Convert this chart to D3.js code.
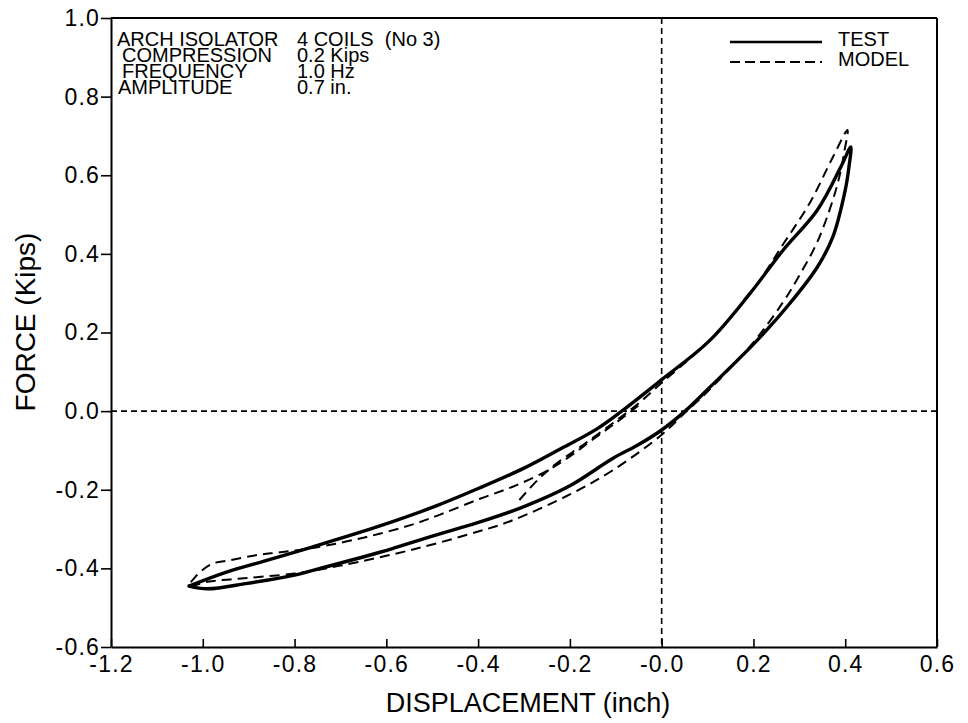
<!DOCTYPE html>
<html>
<head>
<meta charset="utf-8">
<script src="https://cdn.jsdelivr.net/npm/d3@7"></script>
<style>
  html, body { margin: 0; padding: 0; background: #fff; }
  svg { display: block; font-family: "Liberation Sans", Arial, Helvetica, sans-serif; }
</style>
</head>
<body>
<svg id="chart" width="968" height="723"></svg>
<script>
// Axis ticks and their printed labels
const xTickValues = [-1.2, -1.0, -0.8, -0.6, -0.4, -0.2, 0.0, 0.2, 0.4, 0.6];
const xTickLabels = ["-1.2", "-1.0", "-0.8", "-0.6", "-0.4", "-0.2", "-0.0", "0.2", "0.4", "0.6"];
const yTickValues = [-0.6, -0.4, -0.2, 0.0, 0.2, 0.4, 0.6, 0.8, 1.0];
const yTickLabels = ["-0.6", "-0.4", "-0.2", "0.0", "0.2", "0.4", "0.6", "0.8", "1.0"];

// Test hysteresis loop: [displacement (inch), force (kips)]
const testLower = [
  [-1.03, -0.445], [-0.99, -0.452], [-0.903, -0.438], [-0.8, -0.417], [-0.76, -0.405],
  [-0.614, -0.359], [-0.577, -0.346], [-0.5, -0.318], [-0.396, -0.282], [-0.3, -0.243],
  [-0.2, -0.19], [-0.106, -0.12], [-0.05, -0.085], [0.0, -0.048], [0.051, 0.0],
  [0.1, 0.055], [0.208, 0.18], [0.28, 0.275], [0.339, 0.366], [0.373, 0.443],
  [0.40, 0.562], [0.408, 0.62], [0.412, 0.672]
];
const testUpper = [
  [0.412, 0.672], [0.39, 0.62], [0.339, 0.511], [0.265, 0.41], [0.193, 0.30],
  [0.105, 0.18], [0.0, 0.08], [-0.087, 0.0], [-0.141, -0.045], [-0.222, -0.097],
  [-0.3, -0.145], [-0.396, -0.195], [-0.5, -0.245], [-0.614, -0.292], [-0.76, -0.345],
  [-0.868, -0.382], [-0.95, -0.41], [-1.03, -0.445]
];

// Model response: start-up transient, then one full cycle
const modelTransient = [
  [-0.31, -0.226], [-0.27, -0.175], [-0.228, -0.132], [-0.17, -0.085], [-0.1, -0.025],
  [-0.05, 0.02], [0.0, 0.072], [0.1, 0.175], [0.2, 0.31], [0.265, 0.425],
  [0.323, 0.53], [0.373, 0.646], [0.405, 0.715]
];
const modelLower = [
  [0.405, 0.715], [0.398, 0.66], [0.39, 0.61], [0.373, 0.537], [0.339, 0.43],
  [0.3, 0.345], [0.265, 0.278], [0.2, 0.175], [0.1, 0.05], [0.05, -0.005],
  [0.0, -0.06], [-0.106, -0.15], [-0.2, -0.212], [-0.33, -0.28], [-0.396, -0.305],
  [-0.542, -0.352], [-0.7, -0.393], [-0.8, -0.413], [-0.94, -0.428], [-0.99, -0.434],
  [-1.03, -0.445]
];
const modelUpper = [
  [-1.03, -0.445], [-1.015, -0.42], [-0.995, -0.399], [-0.977, -0.387], [-0.94, -0.379],
  [-0.882, -0.366], [-0.831, -0.359], [-0.76, -0.348], [-0.65, -0.322], [-0.542, -0.288],
  [-0.48, -0.262], [-0.396, -0.223], [-0.32, -0.19], [-0.25, -0.152], [-0.2, -0.115],
  [-0.15, -0.072], [-0.1, -0.03], [-0.05, 0.015]
];

// Test-condition notes and legend entries
const noteNames = ["ARCH ISOLATOR", "COMPRESSION", "FREQUENCY", "AMPLITUDE"];
const noteValues = ["4 COILS  (No 3)", "0.2 Kips", "1.0 Hz", "0.7 in."];
const legendNames = ["TEST", "MODEL"];

const svg = d3.select("#chart");
const font = "'Liberation Sans', Arial, Helvetica, sans-serif";

const x = d3.scaleLinear().domain([-1.2, 0.6]).range([111, 937]);
const y = d3.scaleLinear().domain([-0.6, 1.0]).range([647, 18]);

// Frame: top and right borders
svg.append("line").attr("x1", x(-1.2)).attr("x2", x(0.6)).attr("y1", y(1.0)).attr("y2", y(1.0))
  .attr("stroke", "#000").attr("stroke-width", 2);
svg.append("line").attr("x1", x(0.6)).attr("x2", x(0.6)).attr("y1", y(1.0)).attr("y2", y(-0.6))
  .attr("stroke", "#000").attr("stroke-width", 2);

// Zero reference lines
svg.append("line").attr("x1", x(-1.2)).attr("x2", x(0.6)).attr("y1", y(0)).attr("y2", y(0))
  .attr("stroke", "#000").attr("stroke-width", 1.6).attr("stroke-dasharray", "6,4");
svg.append("line").attr("x1", x(0)).attr("x2", x(0)).attr("y1", y(1.0)).attr("y2", y(-0.6))
  .attr("stroke", "#000").attr("stroke-width", 1.6).attr("stroke-dasharray", "6,4");

// Bottom axis, ticks pointing inward
const xAxis = d3.axisBottom(x)
  .tickValues(xTickValues)
  .tickFormat((d, i) => xTickLabels[i])
  .tickSizeInner(-8).tickSizeOuter(0).tickPadding(9);
const gx = svg.append("g").attr("transform", `translate(0,${y(-0.6)})`).call(xAxis);
gx.select(".domain").attr("stroke-width", 2);
gx.selectAll(".tick line").attr("stroke-width", 1.6);
gx.selectAll(".tick text").attr("font-size", 23).attr("font-family", font)
  .attr("letter-spacing", 1.2).attr("fill", "#000");

// Left axis, ticks pointing outward
const yAxis = d3.axisLeft(y)
  .tickValues(yTickValues)
  .tickFormat((d, i) => yTickLabels[i])
  .tickSizeInner(10).tickSizeOuter(0).tickPadding(1);
const gy = svg.append("g").attr("transform", `translate(${x(-1.2)},0)`).call(yAxis);
gy.select(".domain").attr("stroke-width", 2);
gy.selectAll(".tick line").attr("stroke-width", 1.6);
gy.selectAll(".tick text").attr("font-size", 23).attr("font-family", font)
  .attr("letter-spacing", 1.2).attr("fill", "#000");

// Axis titles
svg.append("text").attr("x", 528).attr("y", 712).attr("text-anchor", "middle")
  .attr("font-size", 27).attr("fill", "#000").text("DISPLACEMENT (inch)");
svg.append("text").attr("transform", "translate(35,322) rotate(-90)")
  .attr("text-anchor", "middle").attr("font-size", 28).attr("fill", "#000").text("FORCE (Kips)");

// Curves
const line = d3.line().x(d => x(d[0])).y(d => y(d[1])).curve(d3.curveCatmullRom.alpha(0.5));
const testPath = testLower.concat(testUpper.slice(1));
const modelPath = modelTransient.concat(modelLower.slice(1), modelUpper.slice(1));

svg.append("path").datum(testPath).attr("d", line)
  .attr("fill", "none").attr("stroke", "#000").attr("stroke-width", 3.4)
  .attr("stroke-linejoin", "round").attr("stroke-linecap", "round");
svg.append("path").datum(modelPath).attr("d", line)
  .attr("fill", "none").attr("stroke", "#000").attr("stroke-width", 2)
  .attr("stroke-dasharray", "10,6");

// Notes in the upper-left corner
const noteX1 = [117, 122, 122, 118];
noteNames.forEach((t, i) => {
  svg.append("text").attr("x", noteX1[i]).attr("y", 46 + i * 16)
    .attr("font-size", 20).attr("fill", "#000").text(t);
  svg.append("text").attr("x", 297).attr("y", 46 + i * 16)
    .attr("font-size", 20).attr("fill", "#000").style("white-space", "pre").text(noteValues[i]);
});

// Legend
const legendStyles = [null, "10,5"];
legendNames.forEach((t, i) => {
  const ly = 42 + i * 20;
  svg.append("line").attr("x1", 730).attr("x2", 822).attr("y1", ly).attr("y2", ly)
    .attr("stroke", "#000").attr("stroke-width", i === 0 ? 2.4 : 2)
    .attr("stroke-dasharray", legendStyles[i]);
  svg.append("text").attr("x", 838).attr("y", ly + 4).attr("font-size", 20).attr("fill", "#000").text(t);
});
</script>
</body>
</html>
